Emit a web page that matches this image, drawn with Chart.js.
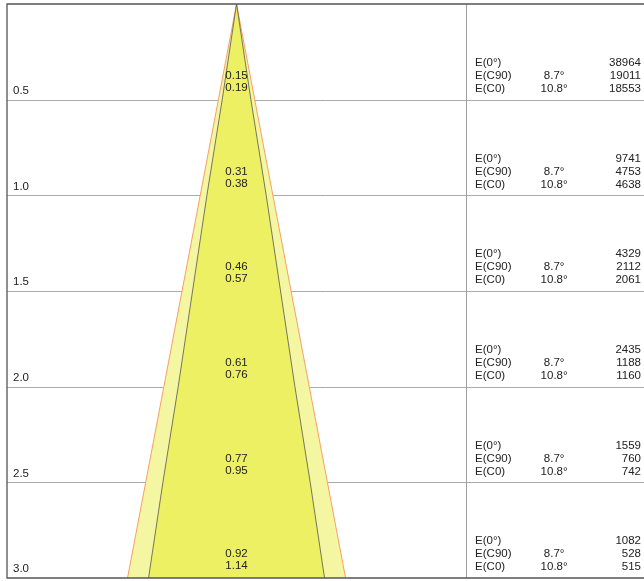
<!DOCTYPE html>
<html>
<head>
<meta charset="utf-8">
<script src="https://cdn.jsdelivr.net/npm/chart.js@4/dist/chart.umd.min.js"></script>
<style>
  html, body { margin: 0; padding: 0; background: #fff; }
  #wrap { width: 644px; height: 581px; position: relative; }
</style>
</head>
<body>
<div id="wrap"><canvas id="coneChart"></canvas></div>
<script>
// distance from the lamp (m) and beam diameters (m)
var distances = [0.5, 1.0, 1.5, 2.0, 2.5, 3.0];
var distanceLabels = ['0.5', '1.0', '1.5', '2.0', '2.5', '3.0'];
var diamC90 = [0.15, 0.31, 0.46, 0.61, 0.77, 0.92];
var diamC0 = [0.19, 0.38, 0.57, 0.76, 0.95, 1.14];
var diamC90Labels = ['0.15', '0.31', '0.46', '0.61', '0.77', '0.92'];
var diamC0Labels = ['0.19', '0.38', '0.57', '0.76', '0.95', '1.14'];

// illuminance (lx)
var eCenter = [38964, 9741, 4329, 2435, 1559, 1082];
var eC90 = [19011, 4753, 2112, 1188, 760, 528];
var eC0 = [18553, 4638, 2061, 1160, 742, 515];
var angleC90 = '8.7°';
var angleC0 = '10.8°';

function conePoints(diams) {
    var pts = [];
    for (var i = diams.length - 1; i >= 0; i--) pts.push({ x: -diams[i] / 2, y: distances[i] });
    pts.push({ x: 0, y: 0 });
    for (var j = 0; j < diams.length; j++) pts.push({ x: diams[j] / 2, y: distances[j] });
    return pts;
}

var FONT = '11.5px "Liberation Sans", Arial, sans-serif';
var tableStart = 1.2; // m, where the data column starts

var tablePlugin = {
    id: 'tablePlugin',
    beforeDatasetsDraw: function (chart) {
        var ctx = chart.ctx, a = chart.chartArea;
        var xs = chart.scales.x, ys = chart.scales.y;
        var right = chart.width;
        ctx.save();
        // row lines
        ctx.strokeStyle = '#ababab';
        ctx.lineWidth = 1;
        distances.forEach(function (d, i) {
            if (i === distances.length - 1) return;
            var y = Math.round(ys.getPixelForValue(d)) + 0.5;
            ctx.beginPath(); ctx.moveTo(a.left, y); ctx.lineTo(right, y); ctx.stroke();
        });
        // column divider
        var dx = Math.round(xs.getPixelForValue(tableStart)) + 0.5;
        ctx.strokeStyle = '#a0a0a0';
        ctx.beginPath(); ctx.moveTo(dx, a.top); ctx.lineTo(dx, a.bottom); ctx.stroke();
        ctx.restore();
    },
    afterDatasetsDraw: function (chart) {
        var ctx = chart.ctx, a = chart.chartArea;
        var xs = chart.scales.x, ys = chart.scales.y;
        var right = chart.width;
        ctx.save();
        // frame
        ctx.strokeStyle = '#555';
        ctx.lineWidth = 1.3;
        var top = ys.getPixelForValue(0), bot = ys.getPixelForValue(distances[distances.length - 1]);
        ctx.beginPath();
        ctx.moveTo(right, top); ctx.lineTo(a.left, top); ctx.lineTo(a.left, bot); ctx.lineTo(right, bot);
        ctx.stroke();

        ctx.font = FONT;
        ctx.fillStyle = '#222';
        ctx.textBaseline = 'middle';
        var cx = xs.getPixelForValue(0);
        var dx = xs.getPixelForValue(tableStart);
        distances.forEach(function (d, i) {
            var y = ys.getPixelForValue(d);
            // distance label
            ctx.textAlign = 'left';
            ctx.fillText(distanceLabels[i], a.left + 6, y - 9);
            // diameters
            ctx.textAlign = 'center';
            ctx.fillText(diamC90Labels[i], cx, y - 24);
            ctx.fillText(diamC0Labels[i], cx, y - 12);
            // table
            ctx.textAlign = 'left';
            ctx.fillText('E(0°)', dx + 9, y - 37);
            ctx.fillText('E(C90)', dx + 9, y - 24);
            ctx.fillText('E(C0)', dx + 9, y - 11);
            ctx.textAlign = 'center';
            ctx.fillText(angleC90, dx + 88, y - 24);
            ctx.fillText(angleC0, dx + 88, y - 11);
            ctx.textAlign = 'right';
            ctx.fillText(String(eCenter[i]), right - 3, y - 37);
            ctx.fillText(String(eC90[i]), right - 3, y - 24);
            ctx.fillText(String(eC0[i]), right - 3, y - 11);
        });
        ctx.restore();
    }
};

new Chart(document.getElementById('coneChart').getContext('2d'), {
    type: 'scatter',
    data: {
        datasets: [{
            label: 'C90',
            data: conePoints(diamC90),
            showLine: true,
            fill: 'shape',
            backgroundColor: '#eef064',
            borderColor: '#555',
            borderWidth: 0.8,
            pointRadius: 0,
            tension: 0
        }, {
            label: 'C0',
            data: conePoints(diamC0),
            showLine: true,
            fill: 'shape',
            backgroundColor: '#f4f6a2',
            borderColor: '#f5a066',
            borderWidth: 1,
            pointRadius: 0,
            tension: 0
        }]
    },
    options: {
        responsive: true,
        maintainAspectRatio: false,
        animation: false,
        layout: { padding: { left: 7, top: 4, right: 0, bottom: 3 } },
        plugins: { legend: { display: false }, tooltip: { enabled: false } },
        scales: {
            x: { type: 'linear', display: false, min: -1.2, max: 2.13 },
            y: { type: 'linear', display: false, min: 0, max: 3, reverse: true }
        }
    },
    plugins: [tablePlugin]
});
</script>
</body>
</html>
